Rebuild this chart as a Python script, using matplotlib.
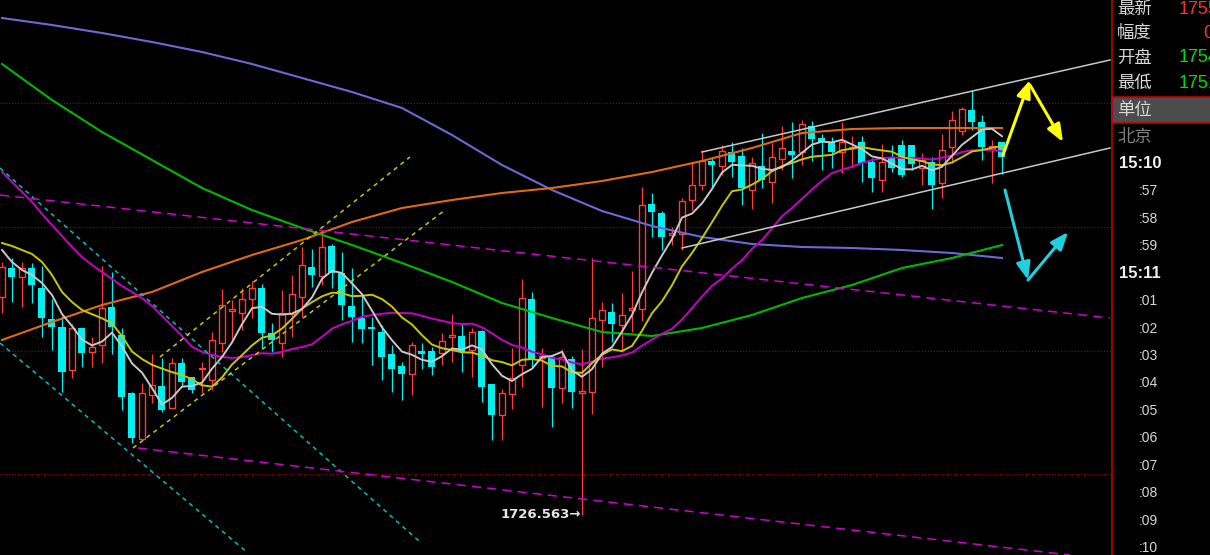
import numpy as np
import pandas as pd
import matplotlib
matplotlib.use("Agg")
import matplotlib.pyplot as plt
from matplotlib.patches import Rectangle

# ---------------- data (prices) ----------------
open_ = [1744.00, 1746.32, 1745.60, 1746.32, 1744.72, 1742.24, 1741.60, 1738.16, 1741.52, 1739.60,
         1740.16, 1743.20, 1740.96, 1736.32, 1732.64, 1736.16, 1736.88, 1735.12, 1738.72, 1737.60,
         1738.24, 1737.36, 1740.32, 1742.88, 1742.72, 1743.84, 1744.72, 1741.12, 1740.32, 1742.64,
         1744.00, 1746.40, 1745.68, 1748.08, 1745.92, 1743.28, 1742.32, 1741.60, 1741.20, 1739.44,
         1738.48, 1737.84, 1739.68, 1739.68, 1739.52, 1740.80, 1740.88, 1739.76, 1741.28, 1737.04,
         1734.56, 1736.24, 1738.56, 1743.84, 1739.12, 1739.20, 1736.72, 1739.04, 1736.32, 1736.40,
         1742.16, 1742.80, 1741.76, 1742.96, 1743.04, 1751.44, 1750.72, 1748.96, 1749.04, 1751.76,
         1752.96, 1754.88, 1754.48, 1755.60, 1755.28, 1752.56, 1754.48, 1753.20, 1755.04, 1755.68,
         1755.60, 1757.68, 1756.72, 1756.40, 1755.60, 1755.92, 1756.40, 1754.80, 1753.36, 1755.12,
         1756.16, 1756.16, 1754.32, 1754.80, 1753.12, 1756.00, 1757.28, 1758.96, 1758.00, 1755.84,
         1756.40]
high = [1746.80, 1747.12, 1746.80, 1746.72, 1746.48, 1743.84, 1742.48, 1741.84, 1741.52, 1740.80,
        1746.48, 1746.00, 1741.52, 1736.40, 1737.12, 1739.44, 1739.12, 1739.12, 1739.12, 1737.60,
        1738.80, 1741.20, 1744.64, 1743.76, 1744.72, 1745.28, 1745.04, 1741.92, 1744.56, 1745.76,
        1748.00, 1747.84, 1749.36, 1748.24, 1747.60, 1746.32, 1744.16, 1742.40, 1741.76, 1740.16,
        1738.80, 1740.40, 1740.32, 1740.00, 1741.12, 1742.64, 1741.92, 1741.52, 1741.36, 1737.04,
        1736.64, 1739.92, 1745.44, 1744.40, 1739.92, 1739.36, 1739.84, 1739.28, 1739.84, 1747.12,
        1743.60, 1743.52, 1744.32, 1746.08, 1752.80, 1752.32, 1750.88, 1749.60, 1751.92, 1754.72,
        1755.76, 1755.20, 1756.16, 1756.40, 1755.92, 1755.20, 1757.12, 1756.32, 1757.68, 1758.00,
        1758.16, 1758.08, 1757.04, 1756.80, 1758.00, 1756.88, 1756.88, 1755.12, 1756.24, 1756.16,
        1756.56, 1756.16, 1755.52, 1755.20, 1757.04, 1758.88, 1759.20, 1760.56, 1758.56, 1756.56,
        1756.40]
low = [1742.72, 1743.60, 1743.20, 1743.52, 1740.80, 1739.76, 1736.40, 1737.52, 1738.40, 1738.40,
       1738.72, 1739.44, 1734.96, 1732.32, 1732.56, 1735.52, 1734.80, 1735.12, 1736.80, 1736.32,
       1736.32, 1736.56, 1739.60, 1740.40, 1741.36, 1742.32, 1739.92, 1739.60, 1739.20, 1740.80,
       1742.40, 1744.80, 1744.96, 1744.72, 1742.16, 1740.40, 1740.32, 1738.56, 1737.36, 1736.40,
       1735.76, 1736.16, 1738.24, 1737.76, 1738.56, 1738.80, 1738.00, 1737.60, 1735.60, 1732.56,
       1732.56, 1735.04, 1736.80, 1738.40, 1735.20, 1733.60, 1735.52, 1735.12, 1726.563, 1734.64,
       1738.40, 1740.40, 1739.60, 1741.20, 1742.08, 1748.80, 1747.76, 1748.16, 1747.76, 1750.96,
       1752.56, 1752.72, 1753.76, 1753.60, 1751.36, 1751.04, 1752.72, 1751.52, 1754.16, 1753.52,
       1754.56, 1754.88, 1754.16, 1754.32, 1753.92, 1754.32, 1753.20, 1752.40, 1752.40, 1754.00,
       1753.60, 1754.16, 1752.96, 1751.04, 1751.92, 1754.72, 1756.96, 1757.36, 1754.96, 1753.12,
       1753.84]
close = [1746.40, 1745.60, 1746.32, 1744.96, 1742.32, 1741.60, 1738.00, 1741.52, 1739.52, 1740.00,
         1743.12, 1741.60, 1736.00, 1732.72, 1736.32, 1736.96, 1734.96, 1738.72, 1737.20, 1736.56,
         1738.32, 1740.56, 1743.36, 1743.04, 1743.84, 1744.72, 1741.12, 1740.56, 1742.72, 1744.24,
         1746.56, 1745.76, 1748.00, 1745.92, 1743.36, 1742.40, 1741.44, 1741.44, 1739.20, 1738.24,
         1737.84, 1740.16, 1739.44, 1738.40, 1740.48, 1740.96, 1739.60, 1741.20, 1736.80, 1734.56,
         1736.32, 1737.52, 1743.92, 1738.96, 1739.28, 1736.72, 1739.20, 1736.40, 1736.48, 1742.32,
         1742.96, 1741.84, 1742.56, 1743.12, 1751.36, 1750.80, 1748.80, 1749.12, 1751.68, 1752.96,
         1754.88, 1754.56, 1755.68, 1754.80, 1752.72, 1754.72, 1753.36, 1755.20, 1755.92, 1755.36,
         1757.84, 1756.64, 1756.40, 1755.60, 1756.40, 1756.00, 1754.72, 1753.52, 1754.80, 1754.32,
         1753.76, 1754.64, 1754.96, 1752.96, 1755.76, 1758.16, 1759.04, 1758.00, 1756.00, 1756.08,
         1755.20]

# moving-average values before a full window exists
ma5_head = [1747.76, 1746.80, 1746.16, 1745.76]
ma10_head = [1748.32, 1748.08, 1747.76, 1747.44, 1746.80, 1745.76, 1744.40, 1743.60, 1742.96]
ma20_head = [1754.00, 1753.20, 1752.40, 1751.60, 1750.64, 1749.76, 1748.88, 1748.00, 1747.20, 1746.56,
             1746.00, 1745.44, 1744.88, 1744.40, 1743.92, 1743.28, 1742.48, 1741.68, 1740.88]

# long moving averages read every 5 bars
long_ma_idx = list(range(0, 101, 5))
ma_green = [1762.64, 1759.76, 1757.20, 1754.96, 1752.72, 1750.96, 1749.52, 1748.16, 1746.72, 1745.20,
            1743.52, 1742.32, 1741.20, 1740.88, 1741.52, 1742.56, 1743.92, 1744.96, 1746.32, 1747.12,
            1748.16]
ma_orange = [1740.56, 1742.00, 1743.36, 1744.40, 1746.00, 1747.36, 1748.56, 1750.00, 1751.12, 1751.76,
             1752.32, 1752.72, 1753.28, 1754.00, 1754.88, 1755.92, 1757.12, 1757.44, 1757.52, 1757.52,
             1757.52]
ma_blue = [1766.32, 1765.76, 1765.12, 1764.40, 1763.60, 1762.64, 1761.52, 1760.40, 1759.12, 1756.96,
           1754.56, 1752.56, 1750.88, 1749.68, 1748.80, 1748.24, 1748.00, 1747.92, 1747.76, 1747.52,
           1747.12]

grid_levels = [1759.48, 1749.60, 1739.68, 1729.84]
low_mark = 1726.563

# drawn trend lines (bar index, price)
cyan_dash_1 = [(-0.2, 1754.32), (41.8, 1724.40)]
cyan_dash_2 = [(-0.2, 1740.32), (24.6, 1723.52)]
yellow_dash_1 = [(15.8, 1739.20), (40.8, 1755.20)]
yellow_dash_2 = [(13.1, 1731.92), (44.3, 1750.96)]
magenta_dash_1 = [(-0.2, 1752.16), (110.8, 1742.32)]
magenta_dash_2 = [(13.6, 1731.92), (106.8, 1723.36)]
gray_line_1 = [(70.0, 1755.60), (110.8, 1762.96)]
gray_line_2 = [(68.0, 1747.92), (110.8, 1755.92)]
yellow_arrows = [((100.1, 1755.36), (102.8, 1761.36)), ((102.8, 1760.96), (106.1, 1756.40))]
cyan_arrows = [((100.3, 1752.56), (102.6, 1745.36)), ((102.6, 1745.36), (106.6, 1749.20))]

panel_labels = ["最新", "幅度", "开盘", "最低"]
panel_values = ["1755.20", "0.08%", "1754.48", "1751.12"]
time_labels = ["15:10", ":57", ":58", ":59", "15:11", ":01", ":02", ":03", ":04",
               ":05", ":06", ":07", ":08", ":09", ":10"]

# ---------------- figure ----------------
W, H = 1210, 555
fig = plt.figure(figsize=(W / 100, H / 100), dpi=100, facecolor="black")
ax = fig.add_axes([0, 0, 1111 / W, 1])
ax.set_facecolor("black")
ax.set_xlim(-0.2, 110.9)
ax.set_ylim(1723.36, 1767.76)
ax.axis("off")

o = np.array(open_); h = np.array(high); l = np.array(low); c = np.array(close)
x = np.arange(len(c))
up = c >= o
RED = "#ff3c3c"
CYAN = "#00f0f0"

for lv in grid_levels:
    ax.axhline(lv, color="#a00000", lw=0.8, ls=(0, (1, 1.6)), zorder=1)

ax.vlines(x[up], l[up], h[up], colors=RED, lw=0.9, zorder=2)
ax.vlines(x[~up], l[~up], h[~up], colors=CYAN, lw=0.9, zorder=2)
hgt = np.maximum(np.abs(c - o), 0.07)
bot = np.minimum(c, o)
ax.bar(x[~up], hgt[~up], bottom=bot[~up], width=0.7, color=CYAN, lw=0, zorder=3)
ax.bar(x[up], hgt[up], bottom=bot[up], width=0.62, facecolor="black",
       edgecolor=RED, lw=1.0, zorder=3)

s = pd.Series(c)
ma5 = s.rolling(5).mean().to_numpy(); ma5[:4] = ma5_head
ma10 = s.rolling(10).mean().to_numpy(); ma10[:9] = ma10_head
ma20 = s.rolling(20).mean().to_numpy(); ma20[:19] = ma20_head

ax.plot(long_ma_idx, ma_blue, color="#6a6ad8", lw=1.5, zorder=4)
ax.plot(long_ma_idx, ma_orange, color="#e06a10", lw=1.5, zorder=4)
ax.plot(long_ma_idx, ma_green, color="#00b800", lw=1.5, zorder=4)
ax.plot(x, ma20, color="#c800c8", lw=1.4, zorder=4)
ax.plot(x, ma10, color="#c8c800", lw=1.4, zorder=4)
ax.plot(x, ma5, color="#c8c8c8", lw=1.4, zorder=4)

def seg(pts, **kw):
    (x0, y0), (x1, y1) = pts
    ax.plot([x0, x1], [y0, y1], zorder=5, **kw)

seg(cyan_dash_1, color="#00c0c0", lw=1.1, ls=(0, (2.8, 2.8)))
seg(cyan_dash_2, color="#00c0c0", lw=1.1, ls=(0, (2.8, 2.8)))
seg(yellow_dash_1, color="#c8c800", lw=1.1, ls=(0, (2.8, 2.8)))
seg(yellow_dash_2, color="#c8c800", lw=1.1, ls=(0, (2.8, 2.8)))
seg(magenta_dash_1, color="#d000d0", lw=1.1, ls=(0, (6, 4)))
seg(magenta_dash_2, color="#d000d0", lw=1.1, ls=(0, (6, 4)))
seg(gray_line_1, color="#c8c8c8", lw=1.1)
seg(gray_line_2, color="#c8c8c8", lw=1.1)

for (p0, p1) in yellow_arrows:
    ax.annotate("", xy=p1, xytext=p0, zorder=6,
                arrowprops=dict(arrowstyle="-|>,head_length=0.7,head_width=0.28",
                                color="#ffff00", lw=2.2, shrinkA=0, shrinkB=0,
                                mutation_scale=15))
for (p0, p1) in cyan_arrows:
    ax.annotate("", xy=p1, xytext=p0, zorder=6,
                arrowprops=dict(arrowstyle="-|>,head_length=0.7,head_width=0.28",
                                color="#20d0e0", lw=2.2, shrinkA=0, shrinkB=0,
                                mutation_scale=15))

low_idx = int(np.argmin(l))
ax.text(low_idx - 0.05, low_mark, f"{low_mark:.3f}→", ha="right", va="center",
        color="#e6e6e6", fontsize=9.5, fontweight="bold", zorder=7)

# ---------------- right-hand info panel ----------------
pn = fig.add_axes([1111 / W, 0, (W - 1111) / W, 1])
pn.set_xlim(1111, W)
pn.set_ylim(H, 0)
pn.axis("off")
pn.add_patch(Rectangle((1111, 97), 99, 26, facecolor="#4c4c4c", edgecolor="none"))
pn.plot([1111, W], [97, 97], color="#c00000", lw=1.2)
pn.plot([1111, W], [123, 123], color="#c00000", lw=1.2)
pn.plot([1111.8, 1111.8], [0, H], color="#c00000", lw=1.2)

cjk = ["Noto Sans CJK SC", "DejaVu Sans"]
row_y = [9, 33, 58, 83]
val_colors = ["#ff3030", "#ff3030", "#00e000", "#00e000"]
for lab, val, yy, vc in zip(panel_labels, panel_values, row_y, val_colors):
    pn.text(1117, yy, lab, family=cjk, fontsize=12.5, color="#d8d8d8", va="center", ha="left")
    vx = 1203 if val.endswith("%") else 1179
    pn.text(vx, yy, val, family=["Liberation Sans"], fontsize=13, color=vc,
            va="center", ha="left", clip_on=False)
pn.text(1117, 110, "单位", family=cjk, fontsize=12.5, color="#d8d8d8", va="center", ha="left")
pn.text(1117, 137, "北京", family=cjk, fontsize=12.5, color="#808080", va="center", ha="left")

for k, t in enumerate(time_labels):
    yy = 164 + 27.43 * k
    if t.startswith("15"):
        pn.text(1119, yy, t, family=["Liberation Sans"], fontsize=12, fontweight="bold",
                color="#f0f0f0", va="center", ha="left")
    else:
        pn.text(1139, yy, t, family=["Liberation Sans"], fontsize=10, color="#d8d8d8",
                va="center", ha="left")

fig.savefig("out.png", dpi=100, facecolor="black")
